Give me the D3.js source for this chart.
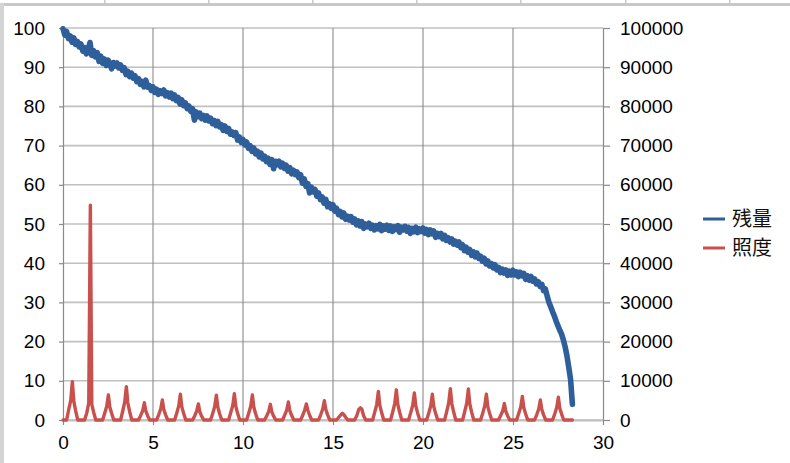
<!DOCTYPE html>
<html><head><meta charset="utf-8">
<script src="https://cdn.jsdelivr.net/npm/d3@7"></script>
<style>body{margin:0;background:#fff}svg{display:block}</style>
</head><body><svg width="790" height="463"></svg>
<script>
// ---- data ----
const xTicks = [0, 5, 10, 15, 20, 25, 30];
const leftTicks = [0, 10, 20, 30, 40, 50, 60, 70, 80, 90, 100];
const rightTicks = [0, 10000, 20000, 30000, 40000, 50000, 60000, 70000, 80000, 90000, 100000];
const seriesNames = ["残量", "照度"];
const remainStepDays = 0.1;
const remainPct = [
  99.8, 98.2, 99.1, 97.3, 98.0, 96.4, 97.5, 95.8, 96.6, 95.2,
  95.9, 94.1, 95.0, 93.4, 94.5, 96.3, 93.0, 94.2, 92.6, 93.7,
  91.5, 92.8, 91.0, 92.1, 90.4, 91.8, 90.9, 89.6, 91.2, 90.3,
  91.1, 89.8, 90.6, 89.2, 89.9, 88.1, 89.0, 87.6, 88.5, 87.2,
  87.8, 86.3, 87.1, 85.6, 86.4, 85.0, 86.7, 84.9, 85.3, 84.1,
  85.0, 83.6, 84.4, 83.1, 84.0, 83.3, 84.2, 82.7, 83.5, 82.4,
  83.4, 82.0, 82.9, 81.5, 82.3, 80.6, 81.7, 80.2, 80.9, 79.4,
  80.1, 78.7, 79.4, 76.5, 78.6, 77.4, 78.3, 76.9, 77.7, 76.5,
  77.6, 76.3, 77.0, 75.6, 76.4, 75.1, 76.2, 74.8, 75.3, 73.9,
  75.0, 73.6, 74.4, 72.9, 73.5, 72.6, 73.3, 71.4, 72.2, 70.8,
  71.6, 70.2, 70.9, 69.3, 70.0, 68.5, 69.4, 67.9, 68.6, 67.1,
  68.1, 66.6, 67.3, 65.9, 66.8, 65.2, 66.4, 64.1, 66.0, 65.1,
  66.0, 64.6, 65.5, 64.2, 65.0, 63.5, 64.4, 62.8, 63.7, 62.6,
  63.3, 61.8, 62.6, 60.4, 61.5, 59.6, 60.3, 57.9, 59.4, 58.2,
  58.8, 57.1, 57.9, 56.2, 56.9, 55.3, 56.3, 54.4, 55.2, 54.0,
  54.9, 53.3, 54.0, 52.4, 53.2, 51.8, 52.8, 51.2, 52.0, 51.0,
  51.9, 50.5, 51.3, 49.8, 50.8, 49.5, 50.6, 48.9, 50.0, 49.3,
  50.2, 48.9, 49.7, 48.5, 49.6, 48.8, 49.9, 48.3, 49.5, 48.7,
  49.7, 48.4, 49.5, 48.1, 49.3, 48.6, 49.6, 47.9, 49.2, 48.5,
  49.4, 48.2, 49.1, 47.6, 48.9, 48.0, 49.2, 47.8, 48.8, 48.1,
  49.0, 47.7, 48.6, 47.3, 48.5, 47.5, 48.2, 46.6, 47.6, 46.8,
  47.6, 46.2, 47.1, 45.8, 46.5, 45.4, 46.2, 44.9, 45.6, 44.6,
  45.4, 44.0, 44.7, 43.2, 44.1, 42.8, 43.5, 42.0, 42.9, 41.6,
  42.6, 41.2, 41.8, 40.5, 41.3, 39.8, 40.6, 39.3, 39.9, 38.8,
  39.6, 38.3, 38.9, 37.6, 38.5, 37.5, 38.3, 36.9, 38.0, 37.0,
  38.2, 37.0, 37.8, 36.6, 37.7, 36.8, 37.4, 35.9, 36.8, 35.7,
  36.6, 35.4, 36.0, 34.7, 35.3, 34.1, 34.6, 33.0, 33.4, 31.6,
  30.0, 28.8, 27.6, 26.5, 25.2, 24.0, 22.9, 21.9, 20.4, 18.6,
  16.3, 13.4, 10.3, 4.0
];
const luxOffsets = [0.2, 0.32, 0.43, 0.52, 0.6, 0.7, 0.82];
const luxByDay = [
  [0, 2700, 5000, 9800, 4800, 2400, 0],
  [0, 1800, 4300, 54800, 4000, 2000, 0],
  [0, 1800, 3500, 6400, 3300, 1700, 0],
  [0, 2300, 4600, 8500, 4400, 2200, 0],
  [0, 1200, 2400, 4400, 2300, 1100, 0],
  [0, 1400, 2800, 5100, 2700, 1300, 0],
  [0, 1800, 3600, 6600, 3400, 1700, 0],
  [0, 1100, 2300, 4100, 2100, 1000, 0],
  [0, 1700, 3500, 6300, 3300, 1600, 0],
  [0, 1900, 3700, 6700, 3500, 1700, 0],
  [0, 1800, 3500, 6400, 3300, 1600, 0],
  [0, 1100, 2200, 4000, 2100, 1000, 0],
  [0, 1300, 2500, 4600, 2400, 1200, 0],
  [0, 1200, 2600, 4100, 2500, 1200, 0],
  [0, 1400, 2800, 4900, 2700, 1300, 0],
  [0, 700, 1300, 1700, 1400, 700, 0],
  [0, 1100, 2700, 3100, 2800, 1100, 0],
  [0, 2000, 4000, 7300, 3800, 1900, 0],
  [0, 2100, 4200, 7700, 4000, 2000, 0],
  [0, 1900, 3800, 6900, 3600, 1800, 0],
  [0, 1800, 3600, 6600, 3400, 1700, 0],
  [0, 2200, 4400, 8000, 4200, 2100, 0],
  [0, 2200, 4300, 7900, 4100, 2000, 0],
  [0, 1800, 3600, 6600, 3400, 1700, 0],
  [0, 1200, 2300, 4200, 2200, 1100, 0],
  [0, 1700, 3300, 6000, 3100, 1600, 0],
  [0, 1400, 2800, 5100, 2700, 1300, 0],
  [0, 1600, 3200, 5800, 3000, 1500, 0]
];
const luxEndDay = 28.3;

// ---- build ----
const svg = d3.select("svg");
const W = 790, H = 463;
const BLUE = "#2f5f9b", RED = "#c8504d";
const FONT = "'Liberation Sans', Arial, sans-serif";

// spreadsheet background strip and chart frame
svg.append("rect").attr("x", 0).attr("y", 0).attr("width", W).attr("height", H).attr("fill", "#fff");
svg.append("rect").attr("x", 0).attr("y", 3).attr("width", W).attr("height", 3).attr("fill", "#c8c8c8");
[104, 208, 312, 416, 520, 625, 729].forEach(cx => {
  svg.append("rect").attr("x", cx).attr("y", 0).attr("width", 1.5).attr("height", 4).attr("fill", "#c8c8c8");
});
svg.append("rect").attr("x", 0).attr("y", 3).attr("width", 4).attr("height", H - 3).attr("fill", "#d4d4d4");

const x = d3.scaleLinear().domain([0, 30]).range([63, 603]);
const yL = d3.scaleLinear().domain([0, 100]).range([420, 28]);
const yR = d3.scaleLinear().domain([0, 100000]).range([420, 28]);

// gridlines
const g = svg.append("g");
g.selectAll("line.h").data(leftTicks).join("line")
  .attr("x1", x(0)).attr("x2", x(30))
  .attr("y1", d => yL(d)).attr("y2", d => yL(d))
  .attr("stroke", "#c0c0c0").attr("stroke-width", 1.6);
g.selectAll("line.v").data(xTicks.slice(1, -1)).join("line")
  .attr("x1", d => x(d)).attr("x2", d => x(d))
  .attr("y1", yL(100)).attr("y2", yL(0))
  .attr("stroke", "#8a8a8a").attr("stroke-width", 1.1);

function styleAxis(sel, lineColor) {
  sel.selectAll("path.domain").attr("stroke", lineColor).attr("stroke-width", 1.2);
  sel.selectAll(".tick line").attr("stroke", lineColor).attr("stroke-width", 1.2);
  sel.selectAll("text").attr("font-family", FONT).attr("font-size", 19).attr("fill", "#000");
}

const axL = svg.append("g").attr("transform", `translate(${x(0)},0)`)
  .call(d3.axisLeft(yL).tickValues(leftTicks).tickSize(4).tickPadding(14).tickSizeOuter(0));
styleAxis(axL, "#8a8a8a");

const axR = svg.append("g").attr("transform", `translate(${x(30)},0)`)
  .call(d3.axisRight(yR).tickValues(rightTicks).tickSize(7).tickPadding(10).tickFormat(d3.format("d")).tickSizeOuter(0));
styleAxis(axR, "#8a8a8a");

const axB = svg.append("g").attr("transform", `translate(0,${yL(0)})`)
  .call(d3.axisBottom(x).tickValues(xTicks).tickSize(5).tickPadding(11).tickSizeOuter(0));
styleAxis(axB, "#8a8a8a");
axB.select("path.domain").attr("stroke", "#c0c0c0").attr("stroke-width", 1.8);

// series
const remainPts = remainPct.map((v, i) => [i * remainStepDays, v]);
const luxPts = [[0, 0]];
luxByDay.forEach((row, d) => row.forEach((v, j) => luxPts.push([d + luxOffsets[j], v])));
luxPts.push([luxEndDay, 0]);

svg.append("path").datum(remainPts)
  .attr("fill", "none").attr("stroke", BLUE).attr("stroke-width", 5.6)
  .attr("stroke-linejoin", "round").attr("stroke-linecap", "round")
  .attr("d", d3.line().x(d => x(d[0])).y(d => yL(d[1])));

svg.append("path").datum(luxPts)
  .attr("fill", "none").attr("stroke", RED).attr("stroke-width", 3.4)
  .attr("stroke-linejoin", "round").attr("stroke-linecap", "round")
  .attr("d", d3.line().x(d => x(d[0])).y(d => yR(d[1])));

// legend
const leg = svg.append("g");
const legY = [219, 248];
[BLUE, RED].forEach((c, i) => {
  leg.append("line").attr("x1", 703).attr("x2", 725).attr("y1", legY[i]).attr("y2", legY[i])
    .attr("stroke", c).attr("stroke-width", 3);
  leg.append("text").attr("x", 732).attr("y", legY[i]).attr("dy", "0.36em")
    .attr("font-family", "'Noto Sans CJK JP', 'Noto Sans CJK SC', sans-serif")
    .attr("font-size", 20).attr("fill", "#111").text(seriesNames[i]);
});
</script>
</body></html>
